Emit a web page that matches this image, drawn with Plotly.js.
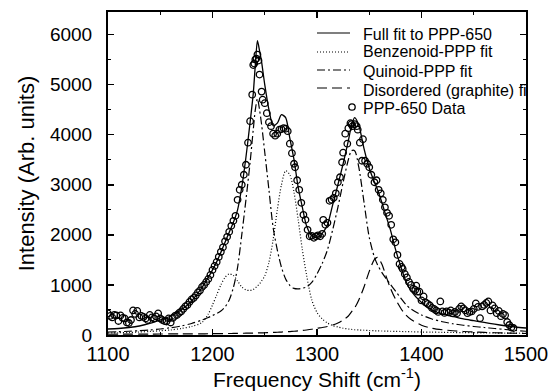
<!DOCTYPE html>
<html>
<head>
<meta charset="utf-8">
<script src="https://cdn.plot.ly/plotly-3.0.1.min.js"></script>
<style>
  html, body { margin: 0; padding: 0; background: #fff; }
  #chart { width: 551px; height: 392px; }
</style>
</head>
<body>
<div id="chart"></div>
<script>
// Frequency grid for the fitted curves (cm^-1)
const fitFreq = [1100,1110,1120,1130,1140,1150,1160,1170,1180,1190,
  1196,1200,1204,1208,1212,1216,1220,1224,1228,1232,1236,
  1239,1241,1243,1245,1247,
  1250,1254,1258,1262,1266,1270,1274,1278,1282,1286,1290,
  1295,1300,1305,1310,1315,1320,1325,1330,
  1333,1336,1340,1345,1350,1355,1358,1362,1366,1370,1375,1380,1385,1390,
  1400,1410,1420,1430,1440,1450,1460,1470,1480,1490,1500];

// Full fit to PPP-650 (solid)
const fullFit = [120,130,150,180,230,300,380,500,680,950,
  1150,1300,1460,1650,1850,2050,2250,2500,2950,3550,4250,
  4820,5400,5880,5680,5450,
  5000,4500,4180,4230,4400,4340,3930,3500,2950,2550,2180,
  1980,1950,2030,2200,2600,3000,3420,3880,
  4180,4340,4190,3720,3330,3050,2900,2650,2380,2120,1720,1380,1080,880,
  650,500,420,370,320,285,250,215,185,160,140];

// Benzenoid-PPP fit (dotted)
const benzenoidFit = [40,45,50,60,70,85,100,130,170,250,
  420,600,800,1000,1150,1220,1190,1080,960,900,890,
  910,940,980,1020,1080,
  1180,1450,1900,2500,3000,3280,3200,2850,2300,1700,1200,
  700,450,320,240,190,160,135,120,
  112,105,100,95,90,85,82,80,78,75,72,70,68,65,
  60,57,54,50,47,45,42,40,38,36,35];

// Quinoid-PPP fit (dash-dot)
const quinoidFit = [60,65,75,85,100,120,145,180,230,300,
  350,390,430,480,560,700,950,1350,2000,2700,3450,
  4100,4500,4720,4500,4200,
  3650,2900,2150,1700,1350,1120,990,930,920,935,960,
  1050,1220,1430,1700,2100,2550,3050,3500,
  3680,3680,3350,2650,1950,1550,1400,1250,1130,1020,880,740,610,520,
  400,320,265,225,195,170,150,130,110,90,75];

// Disordered (graphite) fit (long dash)
const disorderedFit = [15,16,17,18,19,20,21,22,23,24,
  25,26,27,28,29,30,31,32,34,36,38,
  39,40,41,42,43,
  45,48,51,55,59,64,69,75,82,90,100,
  115,135,150,170,200,240,300,380,
  460,540,700,960,1270,1510,1550,1420,1180,950,720,540,400,310,
  195,135,105,85,70,60,52,45,40,35,30];

// PPP-650 measured data (open circles)
const dataFreq = [1100,1102,1104,1106,1108,1110,1112,1114,1116,1118,1120,1122,1124,1126,1128,1130,
  1132,1134,1136,1138,1140,1142,1144,1146,1148,1150,1152,1154,1156,1158,1160,1162,1164,1166,1168,
  1170,1172,1174,1176,1178,1180,1182,1184,1186,1188,1190,1192,1194,1196,1198,1200,1202,1204,1206,
  1208,1210,1212,1214,1216,1218,1220,1222,1224,1226,1228,1230,1232,1234,1236,1238,1239,1240,1241,
  1242,1243,1244,1245,1247,1248,1250,1252,1254,1256,1258,1260,1262,1264,1266,1268,1270,1272,1274,
  1276,1278,1279,1281,1283,1285,1287,1289,1291,1293,1295,1297,1299,1301,1303,1305,1306,1308,1310,
  1312,1314,1316,1318,1320,1322,1324,1325,1327,1329,1330,1332,1333,1334,1336,1338,1339,1341,1343,
  1344,1346,1348,1350,1352,1355,1357,1359,1361,1363,1365,1367,1369,1371,1373,1375,1377,1379,1381,
  1382,1384,1386,1388,1390,1392,1394,1395,1396,1398,1400,1402,1404,1406,1408,1410,1412,1414,1416,
  1418,1420,1422,1424,1426,1428,1430,1432,1434,1436,1438,1440,1442,1444,1446,1448,1450,1452,1454,
  1456,1458,1460,1462,1464,1466,1468,1470,1472,1474,1476,1478,1480,1482,1484,1486,1488];
const dataIntensity = [430,380,350,400,390,280,390,340,330,250,240,300,490,420,480,350,
  380,360,330,300,400,350,330,370,430,330,300,280,270,330,250,340,380,400,440,
  470,520,570,600,660,710,740,790,850,890,960,1000,1060,1120,1200,1300,1380,1460,1560,
  1660,1750,1870,1960,2060,2180,2280,2380,2700,2900,3000,3200,3400,3840,4270,4800,5390,5420,5500,
  5520,5600,5480,5200,4860,4700,4630,4430,4250,4170,4020,3980,4020,4100,4110,4130,4120,4070,3820,
  3630,3420,3350,3090,2900,2640,2400,2300,2100,1970,1980,1940,1970,1990,1970,2020,2300,2200,2240,
  2680,2700,2740,2830,3050,3150,3450,3640,4020,3820,4130,4230,4210,4170,4210,4170,4100,3840,3480,
  3910,3480,3420,3350,3200,3050,3090,2900,2830,2700,2550,2440,2380,2200,1910,1850,1600,1420,1360,
  1320,1220,1150,1060,1000,925,900,985,865,865,690,770,650,620,590,540,520,490,460,
  670,470,440,470,450,490,430,460,435,520,570,530,490,435,460,470,520,630,560,
  335,570,600,640,670,490,590,530,435,480,375,420,395,260,200,150,140];

// Legend labels
const legendLabels = ['Full fit to PPP-650', 'Benzenoid-PPP fit', 'Quinoid-PPP fit',
  'Disordered (graphite) fit', 'PPP-650 Data'];

const lineW = 1.2;
const traces = [
  {x: fitFreq, y: benzenoidFit, type: 'scatter', mode: 'lines', name: legendLabels[1],
   line: {color: 'black', width: lineW, dash: '1px,2px', shape: 'spline', smoothing: 0.8}},
  {x: fitFreq, y: quinoidFit, type: 'scatter', mode: 'lines', name: legendLabels[2],
   line: {color: 'black', width: lineW, dash: '8px,3px,2px,3px', shape: 'spline', smoothing: 0.8}},
  {x: fitFreq, y: disorderedFit, type: 'scatter', mode: 'lines', name: legendLabels[3],
   line: {color: 'black', width: lineW, dash: '10px,5px', shape: 'spline', smoothing: 0.8}},
  {x: fitFreq, y: fullFit, type: 'scatter', mode: 'lines', name: legendLabels[0],
   line: {color: 'black', width: 1.3, shape: 'spline', smoothing: 0.7}},
  {x: dataFreq, y: dataIntensity, type: 'scatter', mode: 'markers', name: legendLabels[4],
   marker: {symbol: 'circle-open', size: 6.5, color: 'black', line: {width: 1.3, color: 'black'}}}
];

// manual legend (paper coordinates)
const plotL = 108, plotR = 526, plotT = 12, plotB = 335;
const px = v => (v - plotL) / (plotR - plotL);
const py = v => (plotB - v) / (plotB - plotT);
const rowsText = [34, 52, 71, 90, 108];
const rowsLine = [33, 52, 70, 88];
const dashes = ['solid', '1px,2px', '8px,3px,2px,3px', '10px,5px'];

const shapes = rowsLine.map((yy, i) => ({
  type: 'line', xref: 'paper', yref: 'paper',
  x0: px(317), x1: px(350), y0: py(yy), y1: py(yy),
  line: {color: 'black', width: 1.2, dash: dashes[i]}
}));
shapes.push({
  type: 'circle', xref: 'paper', yref: 'paper', xsizemode: 'pixel', ysizemode: 'pixel',
  xanchor: px(352), yanchor: py(107), x0: -3.2, x1: 3.2, y0: -3.2, y1: 3.2,
  line: {color: 'black', width: 1.3}, fillcolor: 'rgba(0,0,0,0)'
});

const annotations = legendLabels.map((t, i) => {
  const a = {
    text: t, xref: 'paper', yref: 'paper', x: px(362), y: py(rowsText[i]),
    xanchor: 'left', yanchor: 'middle', showarrow: false, align: 'left',
    font: {size: 16, color: 'black', family: '"Liberation Sans", Arial, sans-serif'}, borderpad: 0
  };
  if (i === 3) { a.width = plotR - 362 - 1; }
  return a;
});

const layout = {
  width: 551, height: 392,
  margin: {l: plotL, r: 551 - plotR, t: plotT, b: 392 - plotB},
  paper_bgcolor: 'white', plot_bgcolor: 'white',
  showlegend: false,
  font: {family: '"Liberation Sans", Arial, sans-serif', color: 'black'},
  xaxis: {
    range: [1100, 1500], tick0: 1100, dtick: 100,
    ticks: 'inside', ticklen: 6, tickwidth: 1.5, tickcolor: 'black',
    showline: true, linewidth: 2, linecolor: 'black', mirror: 'ticks',
    showgrid: false, zeroline: false,
    tickfont: {size: 20, color: 'black'},
    minor: {dtick: 50, ticks: 'inside', ticklen: 3, tickwidth: 1, tickcolor: 'black'},
    title: {text: 'Frequency Shift (cm<sup>-1</sup>)', font: {size: 21, color: 'black'}, standoff: 7}
  },
  yaxis: {
    range: [0, 6450], tick0: 0, dtick: 1000,
    ticks: 'inside', ticklen: 6, tickwidth: 1.5, tickcolor: 'black',
    showline: true, linewidth: 2, linecolor: 'black', mirror: 'ticks',
    showgrid: false, zeroline: false,
    tickfont: {size: 19, color: 'black'},
    ticklabelstandoff: 10,
    minor: {dtick: 500, ticks: 'inside', ticklen: 3, tickwidth: 1, tickcolor: 'black'},
    title: {text: 'Intensity (Arb. units)', font: {size: 22, color: 'black'}, standoff: 9}
  },
  shapes: shapes,
  annotations: annotations
};

Plotly.newPlot('chart', traces, layout, {staticPlot: true, displayModeBar: false});
</script>
</body>
</html>
